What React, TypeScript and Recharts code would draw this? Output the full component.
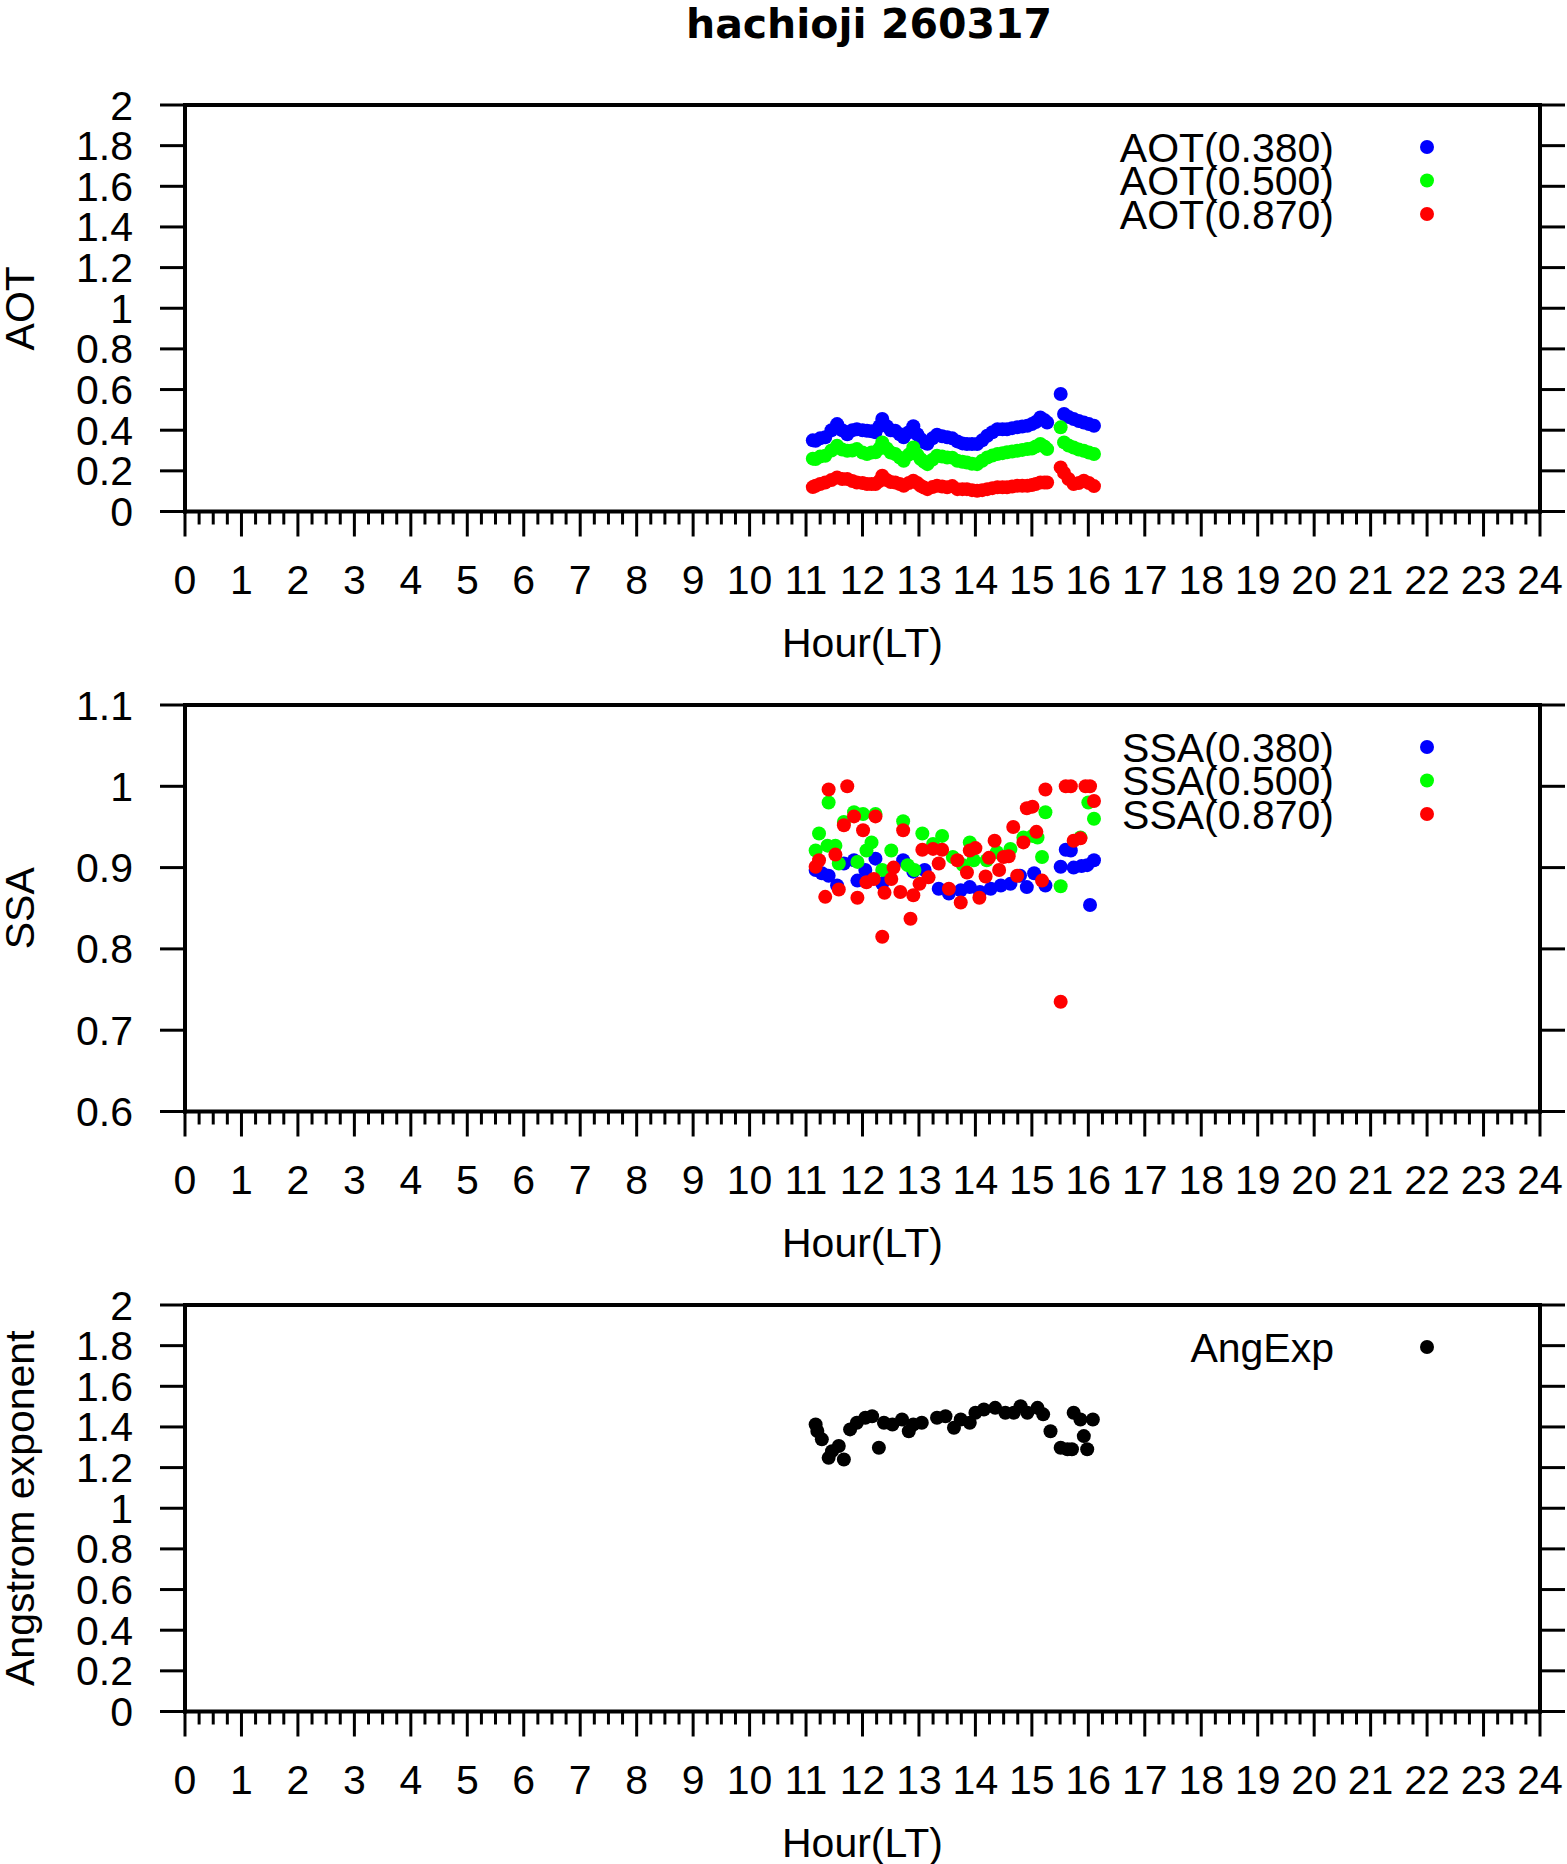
import React from 'react';
import { ScatterChart, Scatter, XAxis, YAxis, Legend, Label } from 'recharts';

const FONT = '"Liberation Sans", Arial, Helvetica, sans-serif';
const TITLE = 'hachioji 260317';

// ---- axis ticks ----
const hourLabels = [0, 1, 2, 3, 4, 5, 6, 7, 8, 9, 10, 11, 12, 13, 14, 15, 16, 17, 18, 19, 20, 21, 22, 23, 24];
const minorTicks = Array.from({ length: 97 }, (_, i) => i / 4);
const aotTicks = [0, 0.2, 0.4, 0.6, 0.8, 1, 1.2, 1.4, 1.6, 1.8, 2];
const aotTickLabels = ['0', '0.2', '0.4', '0.6', '0.8', '1', '1.2', '1.4', '1.6', '1.8', '2'];
const ssaTicks = [0.6, 0.7, 0.8, 0.9, 1, 1.1];
const ssaTickLabels = ['0.6', '0.7', '0.8', '0.9', '1', '1.1'];

// ---- AOT ----
const aotTimes = [11.12, 11.17, 11.25, 11.34, 11.45, 11.55, 11.64, 11.73, 11.82, 11.9, 12.0, 12.08, 12.16, 12.23, 12.3, 12.35, 12.43, 12.5, 12.58, 12.66, 12.73, 12.82, 12.9, 12.97, 13.03, 13.09, 13.15, 13.24, 13.32, 13.41, 13.5, 13.59, 13.68, 13.77, 13.85, 13.94, 14.03, 14.12, 14.21, 14.3, 14.39, 14.48, 14.56, 14.65, 14.74, 14.83, 14.92, 15.0, 15.07, 15.15, 15.22, 15.27, 15.51, 15.57, 15.65, 15.74, 15.83, 15.92, 16.01, 16.1];
const aot380 = [0.35, 0.348, 0.36, 0.365, 0.4, 0.43, 0.4, 0.38, 0.4, 0.405, 0.4, 0.397, 0.395, 0.39, 0.42, 0.455, 0.42, 0.4, 0.397, 0.38, 0.365, 0.39, 0.42, 0.38, 0.357, 0.34, 0.333, 0.36, 0.378, 0.37, 0.365, 0.36, 0.345, 0.335, 0.332, 0.332, 0.332, 0.35, 0.373, 0.39, 0.405, 0.405, 0.405, 0.41, 0.414, 0.418, 0.422, 0.43, 0.44, 0.463, 0.45, 0.438, 0.578, 0.48, 0.465, 0.455, 0.445, 0.438, 0.43, 0.422];
const aot500 = [0.26, 0.258, 0.27, 0.274, 0.3, 0.324, 0.305, 0.299, 0.3, 0.307, 0.29, 0.283, 0.29, 0.291, 0.31, 0.34, 0.31, 0.29, 0.283, 0.265, 0.25, 0.28, 0.315, 0.28, 0.258, 0.245, 0.233, 0.255, 0.274, 0.27, 0.266, 0.265, 0.25, 0.245, 0.241, 0.235, 0.233, 0.25, 0.266, 0.275, 0.283, 0.287, 0.291, 0.295, 0.299, 0.303, 0.307, 0.31, 0.32, 0.332, 0.32, 0.307, 0.414, 0.34, 0.325, 0.315, 0.305, 0.299, 0.29, 0.283];
const aot870 = [0.12, 0.127, 0.135, 0.143, 0.155, 0.167, 0.16, 0.16, 0.15, 0.143, 0.14, 0.135, 0.135, 0.135, 0.15, 0.176, 0.155, 0.145, 0.143, 0.135, 0.127, 0.14, 0.151, 0.14, 0.127, 0.118, 0.11, 0.12, 0.127, 0.123, 0.119, 0.125, 0.11, 0.11, 0.11, 0.105, 0.102, 0.105, 0.11, 0.115, 0.119, 0.119, 0.119, 0.123, 0.127, 0.127, 0.127, 0.13, 0.135, 0.143, 0.143, 0.143, 0.217, 0.19, 0.16, 0.135, 0.14, 0.151, 0.14, 0.125];

// ---- SSA ----
const ssa380Times = [11.17, 11.28, 11.4, 11.55, 11.67, 11.85, 11.91, 12.05, 12.23, 12.35, 12.45, 12.72, 12.9, 13.1, 13.35, 13.53, 13.74, 13.9, 14.08, 14.27, 14.45, 14.62, 14.79, 14.91, 15.04, 15.24, 15.51, 15.6, 15.69, 15.74, 15.88, 15.98, 16.03, 16.1];
const ssa380 = [0.897, 0.893, 0.89, 0.878, 0.905, 0.909, 0.884, 0.897, 0.911, 0.88, 0.888, 0.909, 0.895, 0.897, 0.874, 0.868, 0.872, 0.876, 0.87, 0.874, 0.878, 0.88, 0.89, 0.876, 0.893, 0.878, 0.901, 0.922, 0.921, 0.9, 0.902, 0.903, 0.854, 0.909];
const ssa500Times = [11.17, 11.23, 11.38, 11.4, 11.52, 11.58, 11.67, 11.85, 11.91, 12.01, 12.07, 12.16, 12.23, 12.35, 12.51, 12.72, 12.8, 12.92, 13.06, 13.25, 13.41, 13.6, 13.78, 13.9, 13.97, 14.2, 14.38, 14.62, 14.85, 15.01, 15.1, 15.18, 15.24, 15.51, 15.86, 16.0, 16.1];
const ssa500 = [0.921, 0.942, 0.927, 0.98, 0.927, 0.905, 0.956, 0.968, 0.907, 0.966, 0.921, 0.931, 0.966, 0.897, 0.921, 0.957, 0.903, 0.897, 0.942, 0.929, 0.939, 0.913, 0.903, 0.931, 0.909, 0.909, 0.919, 0.923, 0.937, 0.939, 0.937, 0.913, 0.968, 0.877, 0.937, 0.98, 0.96];
const ssa870Times = [11.17, 11.23, 11.34, 11.4, 11.52, 11.58, 11.67, 11.73, 11.85, 11.91, 12.01, 12.07, 12.2, 12.23, 12.35, 12.39, 12.51, 12.55, 12.67, 12.72, 12.85, 12.9, 13.01, 13.06, 13.17, 13.25, 13.35, 13.41, 13.53, 13.68, 13.74, 13.85, 13.9, 14.0, 14.07, 14.18, 14.24, 14.34, 14.42, 14.5, 14.59, 14.67, 14.74, 14.85, 14.91, 15.01, 15.08, 15.18, 15.24, 15.51, 15.6, 15.69, 15.74, 15.86, 15.95, 16.03, 16.1];
const ssa870 = [0.901, 0.909, 0.864, 0.996, 0.916, 0.873, 0.952, 1.0, 0.963, 0.863, 0.946, 0.882, 0.886, 0.963, 0.815, 0.869, 0.886, 0.9, 0.87, 0.946, 0.837, 0.866, 0.88, 0.922, 0.888, 0.923, 0.905, 0.922, 0.874, 0.909, 0.857, 0.894, 0.921, 0.924, 0.863, 0.889, 0.912, 0.933, 0.897, 0.913, 0.914, 0.95, 0.89, 0.931, 0.973, 0.975, 0.944, 0.884, 0.996, 0.735, 1.0, 1.0, 0.933, 0.936, 1.0, 1.0, 0.982];

// ---- Angstrom exponent ----
const angTimes = [11.17, 11.2, 11.28, 11.4, 11.46, 11.58, 11.67, 11.78, 11.9, 12.05, 12.17, 12.29, 12.38, 12.53, 12.7, 12.82, 12.9, 13.05, 13.32, 13.47, 13.62, 13.74, 13.9, 14.0, 14.15, 14.35, 14.53, 14.68, 14.8, 14.92, 15.1, 15.2, 15.33, 15.51, 15.63, 15.71, 15.74, 15.86, 15.92, 15.98, 16.08];
const angExp = [1.412, 1.38, 1.339, 1.248, 1.281, 1.306, 1.24, 1.388, 1.421, 1.445, 1.453, 1.298, 1.421, 1.412, 1.437, 1.379, 1.412, 1.421, 1.445, 1.453, 1.396, 1.437, 1.421, 1.47, 1.486, 1.494, 1.47, 1.47, 1.502, 1.47, 1.494, 1.462, 1.379, 1.298, 1.29, 1.29, 1.47, 1.437, 1.355, 1.29, 1.437];

const toPoints = (ts: number[], vs: number[]) => ts.map((t, i) => ({ x: t, y: vs[i] }));

// ---- layout ----
const W = 1567;
const LEFT_W = 185;
const RIGHT_W = 27;
const PLOT_H = 406.5;
const TOP_AX = 100;
const BOT_AX = 170;
const CHART_H = TOP_AX + PLOT_H + BOT_AX;
const PLOT_CX = (LEFT_W + (W - RIGHT_W)) / 2;
const YLABEL_X = 33.5;

type Series = { name: string; color: string; data: { x: number; y: number }[] };

const isMajor = (v: number) => hourLabels.some((h) => Math.abs(h - v) < 1e-6);

const BottomTick = (props: any) => {
  const { x, y, payload } = props;
  const v = payload.value;
  const major = isMajor(v);
  return (
    <g>
      <line x1={x} x2={x} y1={y} y2={y + (major ? 25 : 13)} stroke="#000" strokeWidth={3} />
      {major && (
        <text x={x} y={y + 82} textAnchor="middle" fontFamily={FONT} fontSize={41} fill="#000">
          {Math.round(v)}
        </text>
      )}
    </g>
  );
};

const TopTick = (props: any) => {
  const { x, y, payload } = props;
  const major = isMajor(payload.value);
  return <line x1={x} x2={x} y1={y} y2={y - (major ? 25 : 13)} stroke="#000" strokeWidth={3} />;
};

const makeLeftTick = (ticks: number[], labels: string[]) => (props: any) => {
  const { x, y, payload } = props;
  const idx = ticks.findIndex((t) => Math.abs(t - payload.value) < 1e-6);
  return (
    <g>
      <line x1={x - 25} x2={x} y1={y} y2={y} stroke="#000" strokeWidth={3} />
      <text x={x - 52} y={y + 14.5} textAnchor="end" fontFamily={FONT} fontSize={41} fill="#000">
        {idx >= 0 ? labels[idx] : String(payload.value)}
      </text>
    </g>
  );
};

const RightTick = (props: any) => {
  const { x, y } = props;
  return <line x1={x} x2={x + 25} y1={y} y2={y} stroke="#000" strokeWidth={3} />;
};

const LegendBox = ({ series }: { series: Series[] }) => {
  const rows = [42, 75.5, 109];
  return (
    <svg width={440} height={130} style={{ overflow: 'visible' }}>
      {series.map((s, i) => (
        <g key={s.name}>
          <text x={234} y={rows[i] + 14.5} textAnchor="end" fontFamily={FONT} fontSize={41} fill="#000">
            {s.name}
          </text>
          <circle cx={327} cy={rows[i]} r={7} fill={s.color} />
        </g>
      ))}
    </svg>
  );
};

const axisLineStyle = { stroke: '#000', strokeWidth: 4, strokeLinecap: 'square' as const };

function Panel({
  top,
  yLabel,
  domain,
  ticks,
  tickLabels,
  series,
}: {
  top: number;
  yLabel: string;
  domain: [number, number];
  ticks: number[];
  tickLabels: string[];
  series: Series[];
}) {
  const LeftTick = makeLeftTick(ticks, tickLabels);
  return (
    <div style={{ position: 'absolute', left: 0, top }}>
      <ScatterChart width={W} height={CHART_H} margin={{ top: 0, right: 0, bottom: 0, left: 0 }}>
        <XAxis
          dataKey="x"
          type="number"
          domain={[0, 24]}
          ticks={minorTicks}
          interval={0}
          height={BOT_AX}
          tickSize={0}
          tickMargin={0}
          tickLine={false}
          axisLine={axisLineStyle}
          tick={<BottomTick />}
          allowDataOverflow
        >
          <Label
            content={() => (
              <text x={PLOT_CX} y={TOP_AX + PLOT_H + 145} textAnchor="middle" fontFamily={FONT} fontSize={41} fill="#000">
                Hour(LT)
              </text>
            )}
          />
        </XAxis>
        <XAxis
          xAxisId="top"
          orientation="top"
          type="number"
          domain={[0, 24]}
          ticks={minorTicks}
          interval={0}
          height={TOP_AX}
          tickSize={0}
          tickMargin={0}
          tickLine={false}
          axisLine={axisLineStyle}
          tick={<TopTick />}
          allowDataOverflow
        />
        <YAxis
          dataKey="y"
          type="number"
          domain={domain}
          ticks={ticks}
          interval={0}
          width={LEFT_W}
          tickSize={0}
          tickMargin={0}
          tickLine={false}
          axisLine={axisLineStyle}
          tick={<LeftTick />}
          allowDataOverflow
        >
          <Label
            content={() => {
              const cy = TOP_AX + PLOT_H / 2;
              return (
                <text
                  x={YLABEL_X}
                  y={cy}
                  transform={`rotate(-90, ${YLABEL_X}, ${cy})`}
                  textAnchor="middle"
                  fontFamily={FONT}
                  fontSize={41}
                  fill="#000"
                >
                  {yLabel}
                </text>
              );
            }}
          />
        </YAxis>
        <YAxis
          yAxisId="right"
          orientation="right"
          type="number"
          domain={domain}
          ticks={ticks}
          interval={0}
          width={RIGHT_W}
          tickSize={0}
          tickMargin={0}
          tickLine={false}
          axisLine={axisLineStyle}
          tick={<RightTick />}
          allowDataOverflow
        />
        {series.map((s) => (
          <Scatter
            key={s.name}
            name={s.name}
            data={s.data}
            fill={s.color}
            isAnimationActive={false}
            shape={(p: any) => <circle cx={p.cx} cy={p.cy} r={7} fill={s.color} />}
          />
        ))}
        <Legend
          layout="horizontal"
          verticalAlign="middle"
          align="center"
          wrapperStyle={{ position: 'absolute', left: 1100, top: TOP_AX, width: 440, height: 130 }}
          content={() => <LegendBox series={series} />}
        />
      </ScatterChart>
    </div>
  );
}

export default function App() {
  const aotSeries: Series[] = [
    { name: 'AOT(0.380)', color: '#0000ff', data: toPoints(aotTimes, aot380) },
    { name: 'AOT(0.500)', color: '#00ff00', data: toPoints(aotTimes, aot500) },
    { name: 'AOT(0.870)', color: '#ff0000', data: toPoints(aotTimes, aot870) },
  ];
  const ssaSeries: Series[] = [
    { name: 'SSA(0.380)', color: '#0000ff', data: toPoints(ssa380Times, ssa380) },
    { name: 'SSA(0.500)', color: '#00ff00', data: toPoints(ssa500Times, ssa500) },
    { name: 'SSA(0.870)', color: '#ff0000', data: toPoints(ssa870Times, ssa870) },
  ];
  const angSeries: Series[] = [{ name: 'AngExp', color: '#000000', data: toPoints(angTimes, angExp) }];

  return (
    <div style={{ position: 'absolute', left: 0, top: 0, width: W, height: 1864, background: '#fff', overflow: 'hidden' }}>
      <div
        style={{
          position: 'absolute',
          left: 0,
          top: 0,
          width: 1738,
          textAlign: 'center',
          fontFamily: '"DejaVu Sans", sans-serif',
          fontWeight: 'bold',
          fontSize: 41,
          lineHeight: '48px',
          color: '#000',
        }}
      >
        {TITLE}
      </div>
      <Panel top={4.5} yLabel="AOT" domain={[0, 2]} ticks={aotTicks} tickLabels={aotTickLabels} series={aotSeries} />
      <Panel top={604.5} yLabel="SSA" domain={[0.6, 1.1]} ticks={ssaTicks} tickLabels={ssaTickLabels} series={ssaSeries} />
      <Panel top={1205} yLabel="Angstrom exponent" domain={[0, 2]} ticks={aotTicks} tickLabels={aotTickLabels} series={angSeries} />
    </div>
  );
}
